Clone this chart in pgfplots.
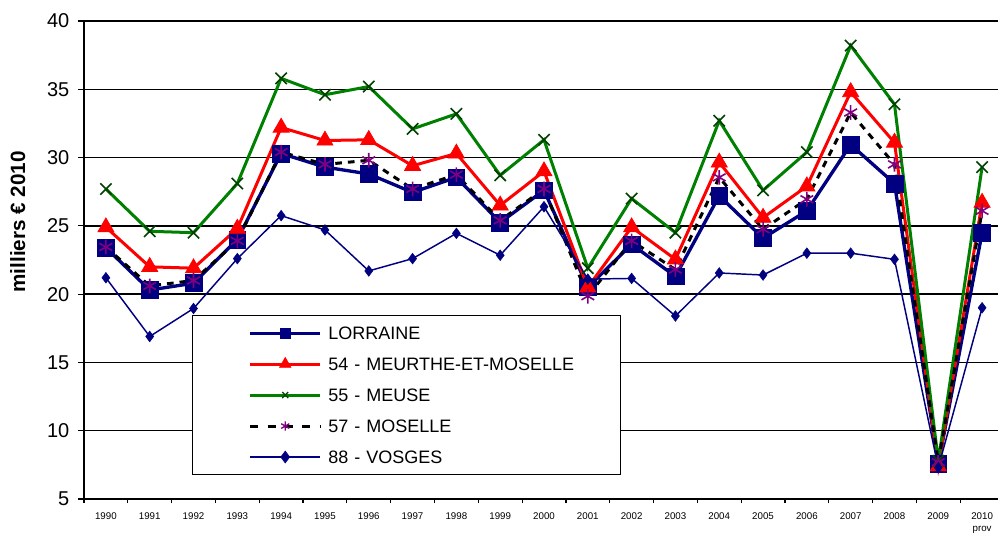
\documentclass[border=0pt]{standalone}
\usepackage{fontspec}
\setmainfont{Liberation Sans}
\usepackage{pgfplots}
\pgfplotsset{compat=1.18}

\definecolor{lorr}{RGB}{0,0,128}
\definecolor{mmred}{RGB}{255,0,0}
\definecolor{meuse}{RGB}{0,128,0}
\definecolor{meusemk}{RGB}{0,64,0}
\definecolor{mospur}{RGB}{128,0,128}

\begin{document}
\begin{tikzpicture}
  \begin{axis}[
    scale only axis,
    width=690pt, height=358.5pt,
    xmin=-0.5, xmax=20.5,
    ymin=5, ymax=40,
    ytick={5,10,...,40},
    xtick={0,...,20},
    xticklabels={1990,1991,1992,1993,1994,1995,1996,1997,1998,1999,2000,
                 2001,2002,2003,2004,2005,2006,2007,2008,2009,{2010\\prov}},
    minor xtick={-0.5,0.5,...,20.5},
    every major x tick/.append style={draw=none},
    every minor x tick/.append style={line width=0.9pt, black},
    minor tick length=3pt,
    major tick length=4.5pt,
    tick align=outside,
    xtick pos=bottom, ytick pos=left,
    tick style={line width=0.9pt, black},
    ymajorgrids=true,
    major grid style={line width=1.1pt, black},
    axis line style={line width=1pt, black},
    /pgf/number format/assume math mode=true,
    yticklabel style={font=\fontsize{15}{15}\selectfont, xshift=-3pt},
    xticklabel style={font=\fontsize{7.3}{9.3}\selectfont, align=center, yshift=-2pt},
    ylabel={milliers € 2010},
    ylabel style={at={(axis description cs:-0.072,0.58)}, anchor=center,
                  font=\bfseries\fontsize{15.5}{16}\selectfont},
    legend cell align=left,
    legend image code/.code={
      \path (-42pt,0pt);
      \draw[mark repeat=2,mark phase=2,#1]
        plot coordinates {(0pt,0pt) (26.25pt,0pt) (52.5pt,0pt)};
    },
    legend style={at={(axis description cs:0.1174,0.385)}, anchor=north west,
                  draw=black, line width=1.1pt, fill=white,
                  inner xsep=0pt, inner ysep=8pt,
                  /tikz/column sep=0pt, /tikz/row sep=13.25pt,
                  font=\fontsize{13.5}{16}\selectfont,
                  nodes={text width=214pt, align=left, inner xsep=5pt,
                         inner ysep=0pt, text height=10pt, text depth=0pt}},
  ]
    % LORRAINE
    \addplot[forget plot, lorr, line width=2.5pt, mark=square*, mark size=6.3pt,
             mark options={fill=lorr, draw=lorr, line width=0.5pt}] coordinates {
      (0,23.4) (1,20.3) (2,20.8) (3,24.0) (4,30.3) (5,29.3) (6,28.8)
      (7,27.45) (8,28.55) (9,25.25) (10,27.6) (11,20.5) (12,23.65) (13,21.3)
      (14,27.2) (15,24.1) (16,26.1) (17,30.95) (18,28.1) (19,7.55) (20,24.5)};
    % 54 - MEURTHE-ET-MOSELLE
    \addplot[forget plot, mmred, line width=2.25pt, mark=triangle*, mark size=7pt,
             mark options={fill=mmred, draw=mmred, line width=0.5pt}] coordinates {
      (0,24.9) (1,22.0) (2,21.9) (3,24.8) (4,32.2) (5,31.25) (6,31.3)
      (7,29.4) (8,30.3) (9,26.5) (10,29.0) (11,20.5) (12,24.9) (13,22.55)
      (14,29.65) (15,25.6) (16,27.9) (17,34.8) (18,31.1) (19,7.4) (20,26.7)};
    % 55 - MEUSE
    \addplot[forget plot, meuse, line width=2.25pt, mark=x, mark size=6pt,
             mark options={draw=meusemk, line width=1.2pt}] coordinates {
      (0,27.7) (1,24.6) (2,24.5) (3,28.1) (4,35.8) (5,34.6) (6,35.2)
      (7,32.1) (8,33.2) (9,28.7) (10,31.3) (11,21.9) (12,27.0) (13,24.5)
      (14,32.7) (15,27.6) (16,30.4) (17,38.2) (18,33.9) (19,7.8) (20,29.3)};
    % 57 - MOSELLE
    \addplot[forget plot, black, line width=2.25pt, dash pattern=on 5pt off 4.5pt,
             mark=asterisk, mark size=5.5pt,
             mark options={solid, draw=mospur, line width=1.2pt}] coordinates {
      (0,23.45) (1,20.6) (2,21.0) (3,23.9) (4,30.4) (5,29.5) (6,29.8)
      (7,27.7) (8,28.75) (9,25.4) (10,27.7) (11,19.85) (12,23.9) (13,21.8)
      (14,28.55) (15,24.75) (16,26.95) (17,33.3) (18,29.5) (19,7.7) (20,26.1)};
    % 88 - VOSGES
    \addplot[forget plot, lorr, line width=1.1pt, mark=diamond*, mark size=4pt,
             mark options={fill=lorr, draw=lorr, line width=0.4pt}] coordinates {
      (0,21.2) (1,16.9) (2,18.95) (3,22.6) (4,25.75) (5,24.7) (6,21.7)
      (7,22.6) (8,24.45) (9,22.85) (10,26.4) (11,21.1) (12,21.15) (13,18.4)
      (14,21.55) (15,21.4) (16,23.0) (17,23.0) (18,22.55) (19,7.3) (20,19.0)};

    \addlegendimage{lorr, line width=2.25pt, mark=square*, mark size=3.6pt,
                    mark options={fill=lorr, draw=lorr, line width=0.4pt}}
    \addlegendentry{LORRAINE}
    \addlegendimage{mmred, line width=2.25pt, mark=triangle*, mark size=5pt,
                    mark options={fill=mmred, draw=mmred, line width=0.4pt}}
    \addlegendentry{54 - MEURTHE-ET-MOSELLE}
    \addlegendimage{meuse, line width=2.25pt, mark=x, mark size=3.2pt,
                    mark options={draw=meusemk, line width=1pt}}
    \addlegendentry{55 - MEUSE}
    \addlegendimage{black, line width=2.25pt, dash pattern=on 6pt off 7pt,
                    mark=asterisk, mark size=3.5pt,
                    mark options={solid, draw=mospur, line width=1pt}}
    \addlegendentry{57 - MOSELLE}
    \addlegendimage{lorr, line width=1.1pt, mark=diamond*, mark size=4.5pt,
                    mark options={fill=lorr, draw=lorr, line width=0.4pt}}
    \addlegendentry{88 - VOSGES}

    \coordinate (bbsw) at (rel axis cs:0,0);
    \coordinate (bbne) at (rel axis cs:1,1);
  \end{axis}
  \pgfresetboundingbox
  \path[use as bounding box] ([shift={(-63pt,-27pt)}]bbsw)
    rectangle ([shift={(-4.5pt,15.75pt)}]bbne);
\end{tikzpicture}
\end{document}
